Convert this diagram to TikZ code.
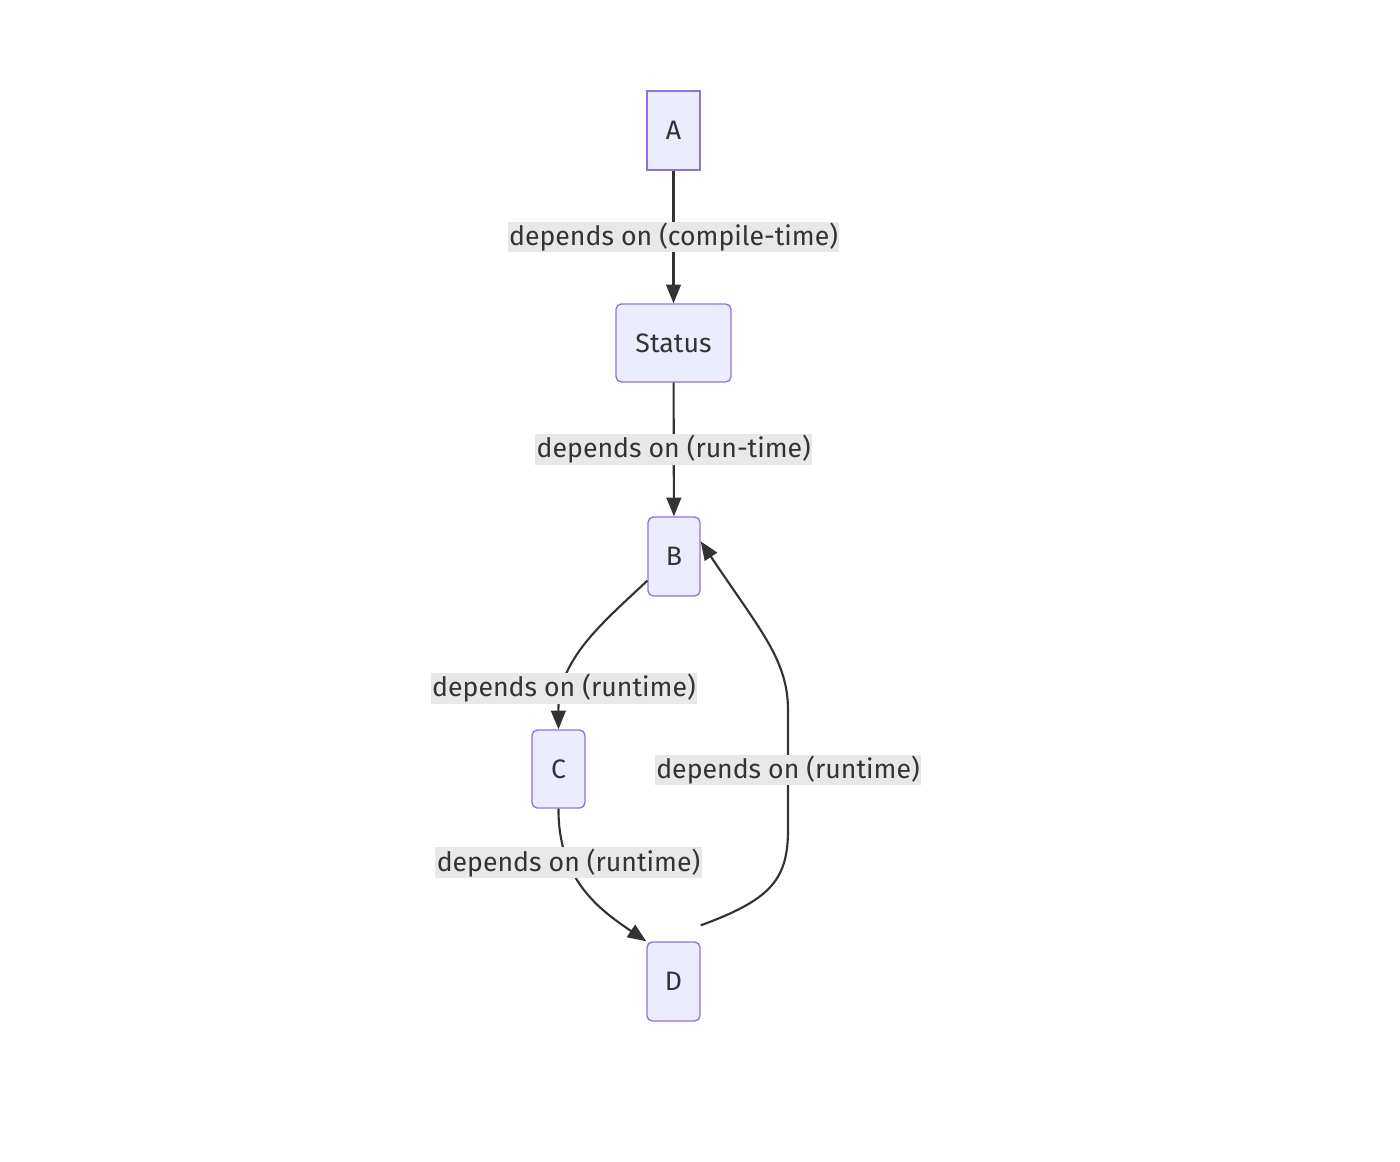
\documentclass[tikz,border=0pt]{standalone}
\usepackage{fontspec}
\setmainfont{Fira Sans}
\usetikzlibrary{arrows.meta}
\definecolor{boxfill}{HTML}{ECECFF}
\definecolor{boxline}{HTML}{9370DB}
\definecolor{ink}{HTML}{333333}
\definecolor{lblbg}{HTML}{E8E8E8}

\begin{document}
\begin{tikzpicture}[x=0.75pt, y=-0.75pt, ->, >={Triangle[length=14pt,width=11pt]}, line width=1.6pt, draw=ink,
		box/.style={draw=boxline, fill=boxfill, line width=1pt, rounded corners=4pt, text=ink, font=\fontsize{20}{24}\selectfont, anchor=center},
		lbl/.style={fill=lblbg, text=ink, inner sep=1pt, font=\fontsize{20}{24}\selectfont}]
		\useasboundingbox (0,0) rectangle (1400,1161);
		\node[box, rounded corners=0pt, minimum width=53*0.75pt, minimum height=79*0.75pt] (A) at (673.5, 130.5) {A};
		\node[box, minimum width=115*0.75pt, minimum height=78*0.75pt] (S) at (673.5, 343) {Status};
		\node[box, minimum width=52*0.75pt, minimum height=79*0.75pt] (B) at (674, 556.5) {B};
		\node[box, minimum width=53*0.75pt, minimum height=78*0.75pt] (C) at (558.5, 769) {C};
		\node[box, minimum width=53*0.75pt, minimum height=79*0.75pt] (D) at (673.5, 981.5) {D};
		\path (B.south west) ++(0,-16) coordinate (b1);
		\path (B.north east) ++(0,25) coordinate (b2);
		\path (D.north east) ++(0,-16) coordinate (d1);
		
		\draw (A) -- node[lbl] {depends on (compile-time)} (S);
		\draw (S) -- node[lbl] {depends on (run-time)} (B);
		\draw (b1) .. controls (600,625) and (558,660) .. node[lbl, pos=0.78] {depends on (runtime)} (C.north);
		\draw (C.south) .. controls (558,880) and (600,910) .. node[lbl, pos=0.3] {depends on (runtime)} (D.north west);
		\draw (d1) .. controls (770,900) and (788,880) .. (788,830) -- node[lbl] {depends on (runtime)} (788,710) .. controls (788,660) and (760,630) .. (b2);
	\end{tikzpicture}
\end{document}
